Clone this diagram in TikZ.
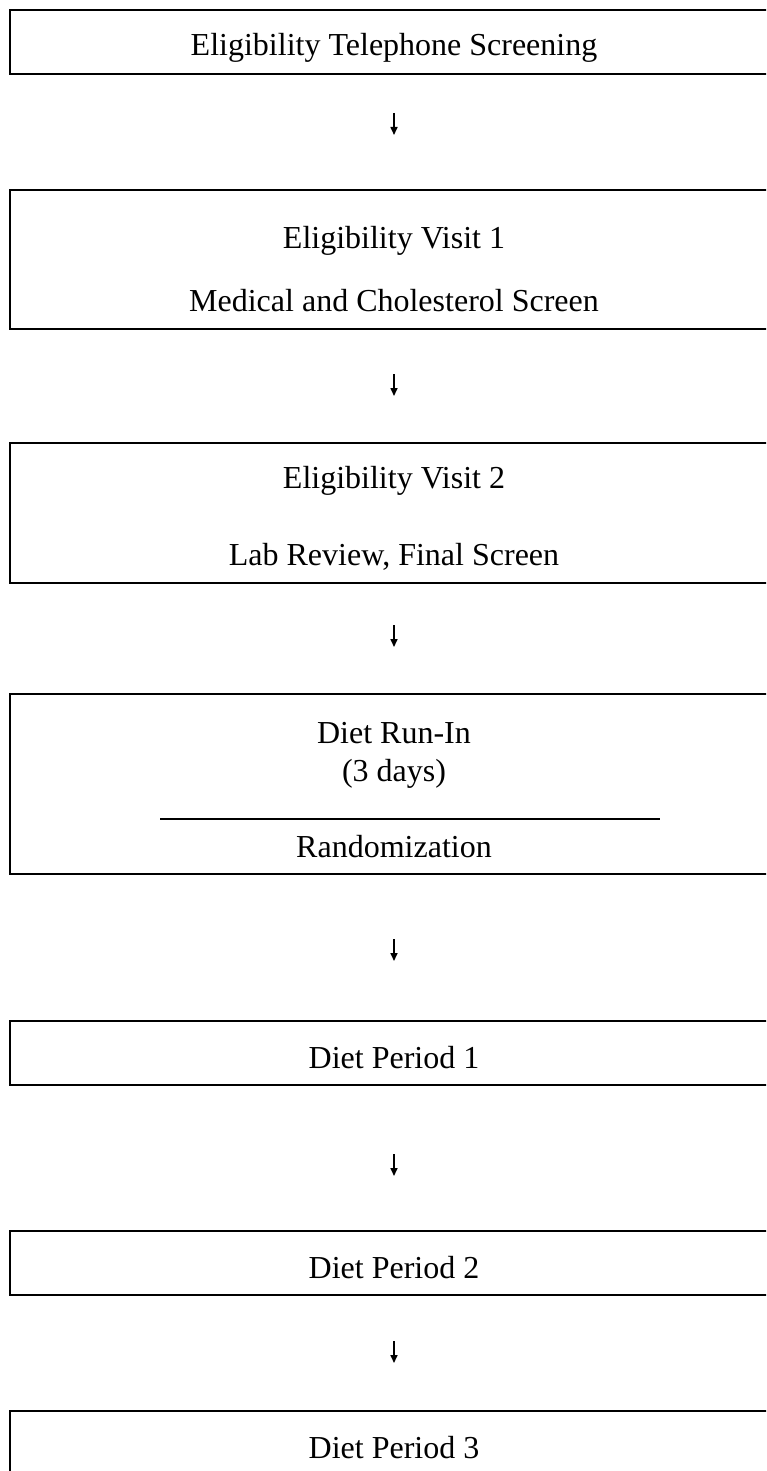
\documentclass[tikz,border=0pt]{standalone}
\usepackage{fontspec}
\setmainfont{Liberation Serif}
\usetikzlibrary{arrows.meta}
\begin{document}
\begin{tikzpicture}[x=1pt,y=-1pt,
  stage/.style={draw=black, line width=2pt, anchor=north west, inner sep=0pt,
                minimum width=790pt},
  caption/.style={font=\fontsize{32}{38}\selectfont, inner sep=0pt, anchor=base},
  flow/.style={line width=1.6pt, -{Triangle[length=8pt,width=7pt]}}]
\fill[white] (0,0) rectangle (766,1471);
\useasboundingbox (0,0) rectangle (766,1471);
\clip (0,0) rectangle (766,1471);

% stage frames (open to the right edge of the page)
\node[stage, minimum height=64pt]  (s1) at (9,9)    {};
\node[stage, minimum height=139pt] (s2) at (9,189)  {};
\node[stage, minimum height=140pt] (s3) at (9,442)  {};
\node[stage, minimum height=180pt] (s4) at (9,693)  {};
\node[stage, minimum height=64pt]  (s5) at (9,1020) {};
\node[stage, minimum height=64pt]  (s6) at (9,1230) {};
\node[stage, minimum height=90pt]  (s7) at (9,1410) {};

% captions
\node[caption] (t1)  at (394,56)   {Eligibility Telephone Screening};
\node[caption] (t2a) at (394,249)  {Eligibility Visit 1};
\node[caption] (t2b) at (394,311)  {Medical and Cholesterol Screen};
\node[caption] (t3a) at (394,488)  {Eligibility Visit 2};
\node[caption] (t3b) at (394,565)  {Lab Review, Final Screen};
\node[caption] (t4a) at (394,743)  {Diet Run-In};
\node[caption] (t4b) at (394,781)  {(3 days)};
\node[caption] (t4c) at (394,857)  {Randomization};
\node[caption] (t5)  at (394,1068) {Diet Period 1};
\node[caption] (t6)  at (394,1278) {Diet Period 2};
\node[caption] (t7)  at (394,1458) {Diet Period 3};

% divider inside the run-in stage
\coordinate (r1) at (160,819);
\coordinate (r2) at (660,819);
\draw[line width=1.5pt] (r1) -- (r2);

% short arrows between stages
\foreach \i/\c in {1/124, 2/385, 3/636, 4/950, 5/1165, 6/1352} {
  \coordinate (a\i s) at (394,\c-11);
  \coordinate (a\i e) at (394,\c+11);
  \draw[flow] (a\i s) -- (a\i e);
}
\end{tikzpicture}
\end{document}
